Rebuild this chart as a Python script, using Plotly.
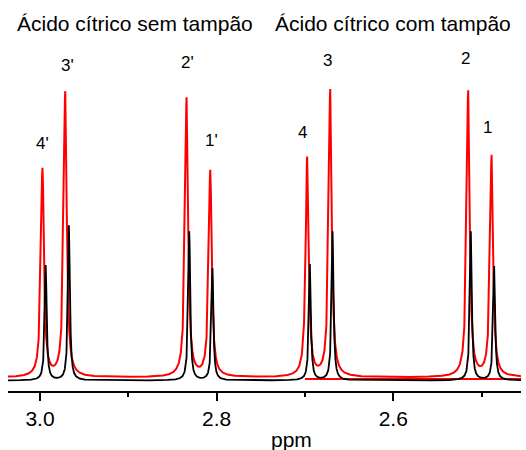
import numpy as np
import plotly.graph_objects as go

# Peak data (chemical shift in ppm, intensity in arbitrary units)
peak_labels = ["4'", "3'", "2'", "1'", "4", "3", "2", "1"]
red_ppm = [2.9972, 2.9714, 2.8340, 2.8072, 2.6975, 2.6714, 2.5152, 2.4887]
red_height = [208, 285, 279, 206, 219, 287, 286, 221]
black_ppm = [2.9935, 2.9672, 2.8310, 2.8048, 2.6944, 2.6687, 2.5122, 2.4858]
black_height = [115, 155, 149, 112, 116, 149, 149, 114]
red_hwhm = 0.0020
black_hwhm = 0.0013
red_baseline = 3
red_flat_level = 1.5
red_flat_range = [2.700, 2.4554]
black_baseline = 0

label_ppm = [2.9966, 2.9694, 2.8325, 2.8053, 2.7023, 2.6740, 2.5178, 2.4928]
label_y = [237.5, 315.5, 318.5, 240.5, 248.5, 320.5, 322.5, 253.5]

titles = ["Ácido cítrico sem tampão", "Ácido cítrico com tampão"]
tick_vals = [3.0, 2.8, 2.6]
tick_text = ["3.0", "2.8", "2.6"]
minor_vals = [2.9, 2.7, 2.5]
x_range = [3.0362, 2.4554]
y_range = [-10.5, 340.5]

x = np.linspace(x_range[1], x_range[0], 12000)


def spectrum(pos, hts, g, base):
    y = np.full_like(x, float(base))
    for p, h in zip(pos, hts):
        y += h * g * g / ((x - p) ** 2 + g * g)
    return y


red_y = spectrum(red_ppm, red_height, red_hwhm, red_baseline)
black_y = spectrum(black_ppm, black_height, black_hwhm, black_baseline)

FONT = "Liberation Sans, Arial, sans-serif"

fig = go.Figure()
fig.add_trace(go.Scatter(x=red_flat_range, y=[red_flat_level, red_flat_level], mode="lines",
                         line=dict(color="#ff0000", width=2), showlegend=False, hoverinfo="skip"))
fig.add_trace(go.Scatter(x=x, y=red_y, mode="lines", line=dict(color="#ff0000", width=2),
                         showlegend=False))
fig.add_trace(go.Scatter(x=x, y=black_y, mode="lines", line=dict(color="#000000", width=1.8),
                         showlegend=False))

for lab, lx, ly in zip(peak_labels, label_ppm, label_y):
    fig.add_annotation(x=lx, y=ly, xref="x", yref="y", text=lab, showarrow=False,
                       xanchor="center", yanchor="middle",
                       font=dict(family=FONT, size=17, color="black"))

for t, px in zip(titles, [0.2466, 0.7505]):
    fig.add_annotation(x=px, y=1.0484, xref="paper", yref="paper", text=t, showarrow=False,
                       xanchor="center", yanchor="middle",
                       font=dict(family=FONT, size=21, color="black"))

fig.add_annotation(x=0.552, y=-0.137, xref="paper", yref="paper", text="ppm", showarrow=False,
                   xanchor="center", yanchor="middle",
                   font=dict(family=FONT, size=21, color="black"))

fig.update_layout(
    width=526, height=450,
    margin=dict(l=8, r=5, t=40, b=59),
    paper_bgcolor="white", plot_bgcolor="white",
    xaxis=dict(range=x_range, tickvals=tick_vals, ticktext=tick_text, showgrid=False,
               zeroline=False, showline=True, linecolor="black", linewidth=1.5,
               ticks="outside", ticklen=8, tickwidth=1.5, tickcolor="black",
               tickfont=dict(family=FONT, size=21, color="black"),
               minor=dict(tickvals=minor_vals, ticks="outside", ticklen=4, tickwidth=1.5,
                          tickcolor="black", showgrid=False)),
    yaxis=dict(range=y_range, visible=False),
    showlegend=False,
)

fig.write_html("out.html")
